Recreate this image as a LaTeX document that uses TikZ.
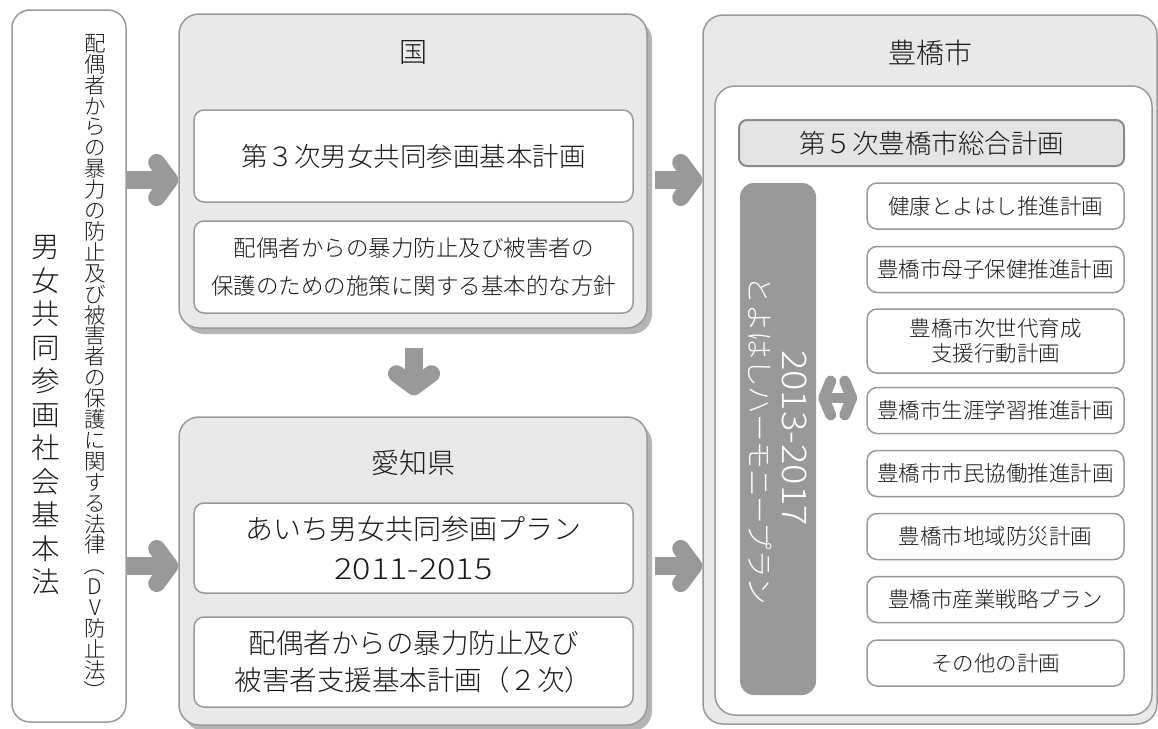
\documentclass[tikz,border=0pt]{standalone}
\usepackage{fontspec}
\IfFontExistsTF{Noto Sans CJK JP Light}{\setmainfont{Noto Sans CJK JP Light}}{\setmainfont{Noto Sans CJK JP}}
\usetikzlibrary{shadows,calc}
\definecolor{bord}{HTML}{9A9A9A}
\definecolor{panel}{HTML}{E9E9E9}
\definecolor{shad}{HTML}{B5B5B5}
\definecolor{arr}{HTML}{999999}
\definecolor{txt}{HTML}{1A1A1A}
\definecolor{planfill}{HTML}{E4E4E4}
\definecolor{planbord}{HTML}{8A8A8A}
\newcommand\jpsz[2]{\fontsize{#1}{#2}\selectfont\lineskiplimit=-100pt\lineskip=0pt}
\begin{document}
\begin{tikzpicture}[x=1pt,y=-1pt,
  panelbox/.style={draw=bord, line width=1.5pt, fill=panel, rounded corners=20pt, inner sep=0pt},
  shadowed/.style={drop shadow={shadow xshift=5pt, shadow yshift=-6pt, fill=shad, opacity=1}},
  wbox/.style={draw=bord, line width=1.5pt, fill=white, rounded corners=10pt, inner sep=0pt, align=center, text=txt},
  rbox/.style={wbox, minimum width=257pt, minimum height=46pt, font=\jpsz{21.5}{25}},
  titletext/.style={text=txt, inner sep=0pt, font=\jpsz{28}{30}},
  shaft/.style={draw=arr, line width=18pt, line cap=butt},
  head/.style={draw=arr, line width=17pt, line cap=round, line join=round},
  sshaft/.style={draw=arr, line width=10pt, line cap=butt},
  shead/.style={draw=arr, line width=11pt, line cap=round, line join=round},
]
\useasboundingbox (0,0) rectangle (1158,728);
\fill[white] (0,0) rectangle (1158,728);

% left box
\node[wbox, rounded corners=18pt, minimum width=114pt, minimum height=712pt] (lbox) at (69,366) {};
\node[text=txt, inner sep=0pt, align=center, font=\jpsz{21.5}{20.9}] (lawdv) at (95,368)
 {配\\偶\\者\\か\\ら\\の\\暴\\力\\の\\防\\止\\及\\び\\被\\害\\者\\の\\保\\護\\に\\関\\す\\る\\法\\律\\\rotatebox[origin=c]{-90}{（}\\D\\V\\防\\止\\法\\\rotatebox[origin=c]{-90}{）}};
\node[text=txt, inner sep=0pt, align=center, font=\jpsz{28.5}{33.5}] (lawgender) at (46,415)
 {男\\女\\共\\同\\参\\画\\社\\会\\基\\本\\法};

% national
\node[panelbox, shadowed, minimum width=468pt, minimum height=314pt] (kuni) at (413,171) {};
\node[titletext] (kunit) at (413,53) {国};
\node[wbox, minimum width=439pt, minimum height=92pt, font=\jpsz{26.5}{30}] (k1) at (413.5,156) {第３次男女共同参画基本計画};
\node[wbox, minimum width=439pt, minimum height=92pt, font=\jpsz{22.5}{38}] (k2) at (413.5,267) {配偶者からの暴力防止及び被害者の\\保護のための施策に関する基本的な方針};

% prefecture
\node[panelbox, shadowed, minimum width=468pt, minimum height=308pt] (aichi) at (413,571) {};
\node[titletext] (aichit) at (413,463) {愛知県};
\node[wbox, minimum width=439pt, minimum height=90pt, font=\jpsz{28}{40}] (a1) at (413.5,548) {あいち男女共同参画プラン\\{\fontsize{29}{40}\selectfont\scalebox{1.18}[1]{2011-2015}}};
\node[wbox, minimum width=439pt, minimum height=90pt, font=\jpsz{27.5}{37}] (a2) at (413.5,662) {配偶者からの暴力防止及び\\被害者支援基本計画（２次）};

% city
\node[panelbox, minimum width=454pt, minimum height=709pt] (toyo) at (930,369.5) {};
\node[titletext] (toyot) at (930,53) {豊橋市};
\node[wbox, rounded corners=20pt, minimum width=437pt, minimum height=629pt] (toyoin) at (933.5,400.5) {};
\node[draw=planbord, line width=2pt, fill=planfill, rounded corners=8pt, inner sep=0pt, text=txt,
      minimum width=385pt, minimum height=46pt, font=\jpsz{26.5}{30}] (plan5) at (931.5,143) {第５次豊橋市総合計画};
\node[fill=arr, rounded corners=14pt, minimum width=76pt, minimum height=512pt, inner sep=0pt] (bar) at (778,439) {};
\node[rotate=-90, text=white, inner sep=0pt, font=\jpsz{34}{36}] (barnum) at (795,438) {\scalebox{1.12}[1]{2013-2017}};
\node[rotate=-90, text=white, inner sep=0pt, font=\jpsz{27.5}{30}] (barname) at (760,441) {とよはしハーモニープラン};

\node[rbox] (r1) at (995.5,206) {健康とよはし推進計画};
\node[rbox] (r2) at (995.5,269.5) {豊橋市母子保健推進計画};
\node[rbox, minimum height=64pt] (r3) at (995.5,341) {豊橋市次世代育成\\支援行動計画};
\node[rbox] (r4) at (995.5,410.5) {豊橋市生涯学習推進計画};
\node[rbox] (r5) at (995.5,473.5) {豊橋市市民協働推進計画};
\node[rbox] (r6) at (995.5,536.5) {豊橋市地域防災計画};
\node[rbox] (r7) at (995.5,599.5) {豊橋市産業戦略プラン};
\node[rbox] (r8) at (995.5,663) {その他の計画};

% arrows
\coordinate (ay1) at (0,180);
\coordinate (ay2) at (0,566);
\coordinate (ay3) at (0,398);

\draw[shaft] (lbox.east |- ay1) -- ($(kuni.west |- ay1)+(-8.5,0)$);
\draw[head] ($(kuni.west |- ay1)+(-21.5,-17.5)$) -- ($(kuni.west |- ay1)+(-8.5,0)$) -- ($(kuni.west |- ay1)+(-21.5,17.5)$);

\draw[shaft] (lbox.east |- ay2) -- ($(aichi.west |- ay2)+(-8.5,0)$);
\draw[head] ($(aichi.west |- ay2)+(-21.5,-17.5)$) -- ($(aichi.west |- ay2)+(-8.5,0)$) -- ($(aichi.west |- ay2)+(-21.5,17.5)$);

\draw[shaft] ($(kuni.east |- ay1)+(7,0)$) -- ($(toyo.west |- ay1)+(-8.5,0)$);
\draw[head] ($(toyo.west |- ay1)+(-21.5,-17.5)$) -- ($(toyo.west |- ay1)+(-8.5,0)$) -- ($(toyo.west |- ay1)+(-21.5,17.5)$);

\draw[shaft] ($(aichi.east |- ay2)+(7,0)$) -- ($(toyo.west |- ay2)+(-8.5,0)$);
\draw[head] ($(toyo.west |- ay2)+(-21.5,-17.5)$) -- ($(toyo.west |- ay2)+(-8.5,0)$) -- ($(toyo.west |- ay2)+(-21.5,17.5)$);

\draw[shaft] ($(kuni.south)+(1,19)$) -- ($(aichi.north)+(1,-29.5)$);
\draw[head] ($(aichi.north)+(-16.5,-42.5)$) -- ($(aichi.north)+(1,-29.5)$) -- ($(aichi.north)+(18.5,-42.5)$);

\draw[sshaft] ($(bar.east |- ay3)+(7.5,0)$) -- ($(r4.west |- ay3)+(-14.5,0)$);
\draw[shead] ($(bar.east |- ay3)+(14.5,-17)$) -- ($(bar.east |- ay3)+(7.5,0)$) -- ($(bar.east |- ay3)+(14.5,17)$);
\draw[shead] ($(r4.west |- ay3)+(-21.5,-17)$) -- ($(r4.west |- ay3)+(-14.5,0)$) -- ($(r4.west |- ay3)+(-21.5,17)$);
\end{tikzpicture}
\end{document}
